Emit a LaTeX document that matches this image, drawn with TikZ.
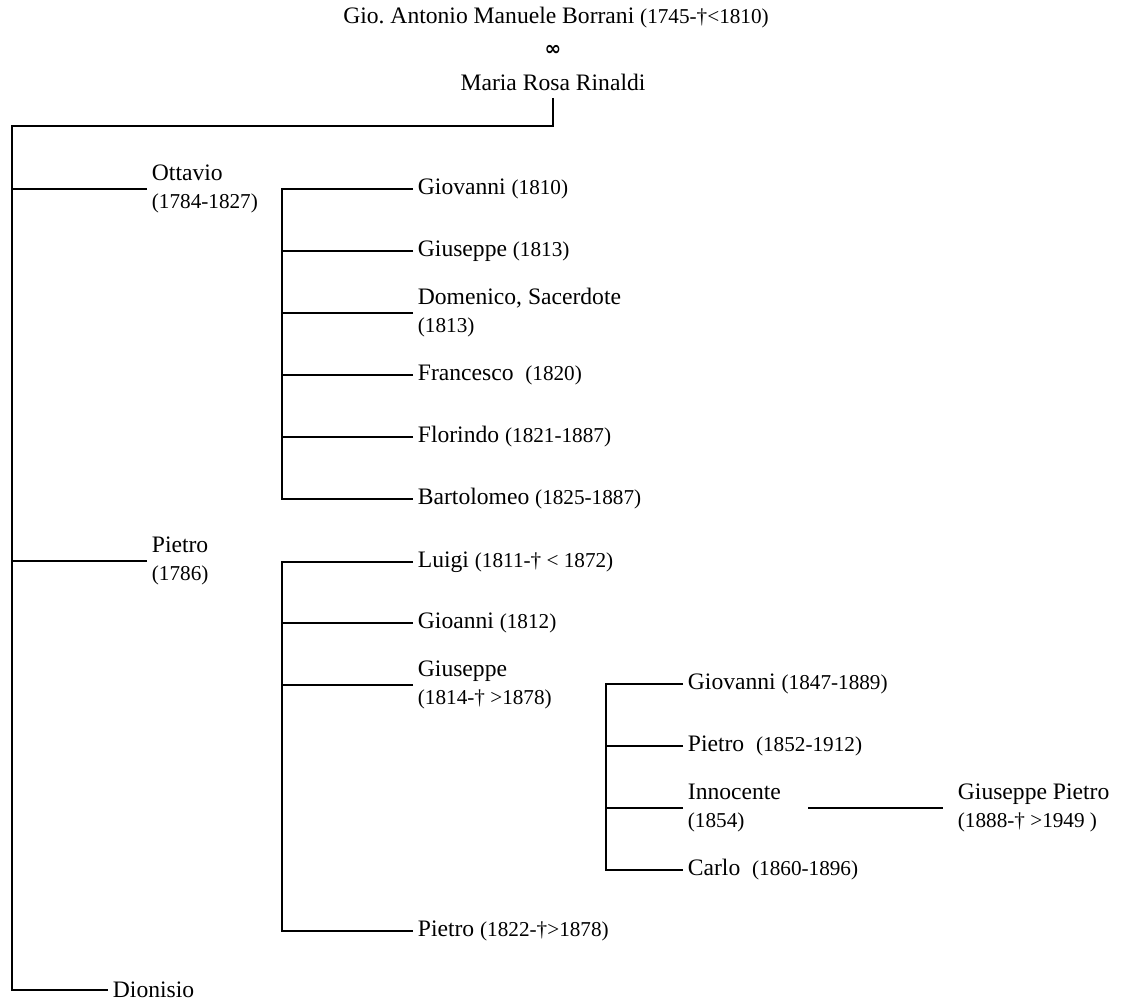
\documentclass[tikz,border=0pt]{standalone}
\usepackage{fontspec}
\setmainfont{Liberation Serif}
\newfontfamily\dejavu{DejaVu Sans}
\newcommand{\yrs}[1]{{\fontsize{10.6}{14}\selectfont #1}}
\begin{document}
\begin{tikzpicture}[x=0.5pt, y=-0.5pt, line width=0.9pt,
  pers/.style={anchor=west, inner sep=2pt, align=left, font=\fontsize{11.8}{14}\selectfont}]
\useasboundingbox (0,0) rectangle (1124,1005);
% the couple
\node[font=\fontsize{11.8}{14}\selectfont] (gio) at (556,18) {Gio.\ Antonio Manuele Borrani \yrs{(1745-†<1810)}};
\node[font=\dejavu\bfseries] (inf) at (553,50) {∞};
\node[font=\fontsize{11.8}{14}\selectfont] (mar) at (553,82) {Maria Rosa Rinaldi};
\coordinate (top) at (12,126);
% sons
\node[pers] (ott) at (147,189) {Ottavio\\\yrs{(1784-1827)}};
\node[pers] (pie) at (147,561) {Pietro\\\yrs{(1786)}};
\node[pers] (dio) at (108,990) {Dionisio};
\draw (mar.south) |- (top) |- (dio.west);
\draw (ott.west) -- (ott.west -| top);
\draw (pie.west) -- (pie.west -| top);
% children of Ottavio
\coordinate (ob) at (282,189);
\node[pers] (o1) at (413,189) {Giovanni \yrs{(1810)}};
\node[pers] (o2) at (413,251) {Giuseppe \yrs{(1813)}};
\node[pers] (o3) at (413,313) {Domenico, Sacerdote\\\yrs{(1813)}};
\node[pers] (o4) at (413,375) {Francesco~ \yrs{(1820)}};
\node[pers] (o5) at (413,437) {Florindo \yrs{(1821-1887)}};
\node[pers] (o6) at (413,499) {Bartolomeo \yrs{(1825-1887)}};
\draw (o1.west) -| (ob |- o6.west) -- (o6.west);
\foreach \c in {o2,o3,o4,o5}
  \draw (\c.west) -- (\c.west -| ob);
% children of Pietro
\coordinate (pb) at (282,562);
\node[pers] (p1) at (413,562) {Luigi \yrs{(1811-† < 1872)}};
\node[pers] (p2) at (413,623) {Gioanni \yrs{(1812)}};
\node[pers] (p3) at (413,685) {Giuseppe\\\yrs{(1814-† >1878)}};
\node[pers] (p4) at (413,931) {Pietro \yrs{(1822-†>1878)}};
\draw (p1.west) -| (pb |- p4.west) -- (p4.west);
\foreach \c in {p2,p3}
  \draw (\c.west) -- (\c.west -| pb);
% children of Giuseppe
\coordinate (gb) at (606,684);
\node[pers] (g1) at (683,684) {Giovanni \yrs{(1847-1889)}};
\node[pers] (g2) at (683,746) {Pietro~ \yrs{(1852-1912)}};
\node[pers] (g3) at (683,808) {Innocente\\\yrs{(1854)}};
\node[pers] (g4) at (683,870) {Carlo~ \yrs{(1860-1896)}};
\draw (g1.west) -| (gb |- g4.west) -- (g4.west);
\foreach \c in {g2,g3}
  \draw (\c.west) -- (\c.west -| gb);
% grandson of Giuseppe
\coordinate (gl) at (808,808);
\node[pers] (gp) at (953,808) {Giuseppe Pietro\\\yrs{(1888-† >1949 )}};
\draw (gl) -- ([xshift=-5pt]gp.west);
\end{tikzpicture}
\end{document}
